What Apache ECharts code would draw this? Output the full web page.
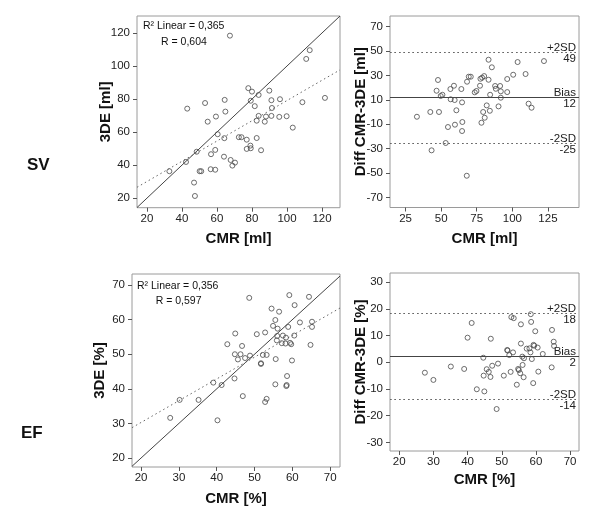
<!DOCTYPE html>
<html><head><meta charset="utf-8">
<script src="https://cdn.jsdelivr.net/npm/echarts@6/dist/echarts.min.js"></script>
<style>html,body{margin:0;padding:0;background:#fff}#c{width:600px;height:513px}</style>
</head><body><div id="c"></div>
<script>
// ---- SV: CMR vs 3DE scatter ----
const svCmr = [67.4,113,111,77.9,80,89.9,83.8,64.4,53.2,79.3,91.1,96,108.8,81.6,91.4,43,121.7,54.7,59.4,64.8,83.8,82.7,87.3,88,91.1,95.6,99.8,103.3,60.4,64.2,72.5,74,77,82.7,77,79.3,79.1,85.2,48.4,56.6,59,64,67.8,70.3,68.8,42.3,32.8,50.1,51,56.4,59,46.9,47.4];
const sv3de = [118.4,109.6,104.3,86.6,84.5,85.1,82.5,79.5,77.6,79.0,79.3,79.9,78.1,75.7,74.6,74.2,80.7,66.3,69.4,72.4,69.8,66.9,66.3,69.4,69.8,69.2,69.6,62.7,58.7,56.3,56.9,56.9,55.4,56.4,49.8,50.2,51.8,49,48.1,46.6,49.2,45.1,43.1,41.5,39.7,41.9,36.3,36.3,36.3,37.5,37.2,29.4,21.3];
const svFit = [17.8, 0.613]; // intercept, slope (dotted fit line)
const svStats = ['R² Linear = 0,365', 'R = 0,604'];
// ---- SV: Bland-Altman ----
const svBaX = [83.3,103.7,122.2,85.6,109.3,100.6,96.4,69.4,70.8,68.2,77.6,78.8,80.2,83.3,77.3,47.8,59,56.5,64.2,46.8,50.9,49.7,73.6,74.8,87.9,91.4,88.4,91.9,96.4,84.4,91.9,56.7,59.5,64.7,82,90.3,111.4,113.5,60.7,42.4,48.5,33,79.5,84.2,80.6,78.3,64.9,59.7,54.8,64.7,53.2,43.3,68];
const svBaY = [42.8,40.9,41.7,36.6,31.1,30.5,27.0,28.9,28.9,24.8,27.2,28.1,29.4,26.4,21.5,26.2,21.5,18.8,18.8,17.4,14.1,13.1,16.1,17.2,21.3,21.3,19.0,16.9,16.3,14.1,11.7,10.4,9.8,7.9,5.4,4.6,6.8,3.5,1.4,0.0,0.0,-3.9,0.0,1.0,-4.7,-8.8,-8.2,-10.4,-12.3,-15.6,-25.4,-31.4,-52.2];
const svLimits = [49.1, 12.3, -25.4];
const svLimitNames = ['+2SD', 'Bias', '-2SD'];
const svLimitLabels = ['49', '12', '-25'];
// ---- EF: CMR vs 3DE scatter ----
const efCmr = [48.6,59.2,64.4,60.6,54.5,56.5,55.5,62,65.2,65.2,54.9,56.1,58.9,44.9,50.6,52.8,56,57.5,58.3,60.5,55.9,57.2,58.2,59.4,59.7,64.8,42.8,46.7,44.8,46.3,45.6,47.5,48.8,52.2,53.2,55.6,59.9,51.7,51.7,58.6,55.5,58.4,58.5,53.2,52.8,46.9,44.7,41.3,39.1,35.2,30.2,27.7,40.2];
const ef3de = [66.3,67.1,66.6,64.2,63.2,62.3,59.9,59.2,59.4,57.9,58.2,57.4,57.9,56,55.8,56.3,55.3,55.4,54.8,55.4,54,53.2,53.1,53.3,52.9,52.7,52.9,52.4,50,50,48.5,48.9,49.6,49.8,49.8,48.6,48.2,47.2,47.4,43.7,41.3,40.8,41.1,37.1,36.2,37.9,43,41.1,41.8,36.8,36.8,31.6,30.9];
const efFit = [17.7, 0.629];
const efStats = ['R² Linear = 0,356', 'R = 0,597'];
// ---- EF: Bland-Altman ----
const efBaX = [58.5,52.8,53.5,58.6,55.6,41.2,59.8,64.7,40,46.8,65.2,65.3,55.6,59.3,59.5,60.5,57.3,58.1,51.6,51.7,53.3,52.2,62,58.4,56,56.5,58.8,44.6,48.9,47.2,35.1,39,45.6,56.1,54.8,64.6,27.5,30,46.2,44.7,46.7,50.6,52.6,55,55.4,56.4,54.4,60.7,59.2,42.7,44.9,48.5];
const efBaY = [18,16.9,16.5,15.1,14.2,14.7,11.6,12.1,9.2,8.8,7.7,6.1,7,6.5,6.2,5.5,5.1,5.2,4.6,4.4,3.7,2.7,3.1,3.7,2.1,1.5,1.2,1.7,-0.5,-1.3,-1.6,-2.5,-2.6,-1,-2.5,-1.9,-3.9,-6.6,-3.6,-5,-5.5,-5,-3.6,-2.9,-4.1,-5.6,-8.4,-3.5,-7.8,-10.1,-10.9,-17.5];
const efLimits = [18.35, 2.36, -13.7];
const efLimitNames = ['+2SD', 'Bias', '-2SD'];
const efLimitLabels = ['18', '2', '-14'];
// ---- tick labels ----
const svTicksX = [20,40,60,80,100,120];
const svTicksY = [20,40,60,80,100,120];
const svBaTicksX = [25,50,75,100,125];
const svBaTicksY = [-70,-50,-30,-10,10,30,50,70];
const efTicksX = [20,30,40,50,60,70];
const efTicksY = [20,30,40,50,60,70];
const efBaTicksX = [20,30,40,50,60,70];
const efBaTicksY = [-30,-20,-10,0,10,20,30];

const FONT = 'Liberation Sans, Arial, sans-serif';
const ranges = [
  {x:[14.3,130.3], y:[14.2,130.3]},
  {x:[14.1,146.8], y:[-78.2,78.6]},
  {x:[17.6,72.6], y:[17.4,73.2]},
  {x:[17.3,72.6], y:[-33.2,33.4]}
];
const grids = [
  {left:137, top:16, width:203, height:191.7},
  {left:390, top:16, width:189, height:191.5},
  {left:132, top:274, width:208, height:193},
  {left:390, top:273, width:189, height:178}
].map(g => Object.assign(g, {show:true, borderColor:'#9a9a9a', borderWidth:1, backgroundColor:'#fff', containLabel:false}));

function axis(type, gi, range, ticks, name, gap) {
  const isX = type === 'x';
  return {
    type:'value', gridIndex:gi, min:range[0], max:range[1],
    name:name, nameLocation:'middle', nameGap:gap, nameMoveOverlap:false,
    nameTextStyle:{fontFamily:FONT, fontWeight:'bold', fontSize:15, color:'#111'},
    axisLine:{show:false, onZero:false},
    splitLine:{show:false},
    axisTick:{show:true, length:4, customValues:ticks, lineStyle:{color:'#555', width:1}},
    axisLabel:{customValues:ticks, margin: isX ? 5 : 7, fontFamily:FONT, fontSize:11.5, color:'#222'}
  };
}

const xAxis = [
  axis('x',0,ranges[0].x,svTicksX,'CMR [ml]',24),
  axis('x',1,ranges[1].x,svBaTicksX,'CMR [ml]',24),
  axis('x',2,ranges[2].x,efTicksX,'CMR [%]',24),
  axis('x',3,ranges[3].x,efBaTicksX,'CMR [%]',21)
];
const yAxis = [
  axis('y',0,ranges[0].y,svTicksY,'3DE [ml]',24),
  axis('y',1,ranges[1].y,svBaTicksY,'Diff CMR-3DE [ml]',22),
  axis('y',2,ranges[2].y,efTicksY,'3DE [%]',25),
  axis('y',3,ranges[3].y,efBaTicksY,'Diff CMR-3DE [%]',22)
];

const pointStyle = {color:'rgba(0,0,0,0)', borderColor:'#4a4a4a', borderWidth:1};
function scatter(gi, xs, ys) {
  return {type:'scatter', xAxisIndex:gi, yAxisIndex:gi, symbol:'circle', symbolSize:5,
    itemStyle:pointStyle, data: xs.map((x,i)=>[x, ys[i]]), z:5, silent:true};
}
function line(gi, pts, dashed) {
  return {type:'line', xAxisIndex:gi, yAxisIndex:gi, data:pts, symbol:'none', silent:true, clip:true,
    lineStyle:{color: dashed ? '#666' : '#444', width:1, type: dashed ? [1.5,3] : 'solid'}, z:3};
}
function limitLines(gi, limits, names, labels) {
  const data = [];
  limits.forEach((v,i) => {
    const ls = {color: i===1 ? '#444' : '#666', width:1, type: i===1 ? 'solid' : [1.5,3]};
    const lab = {fontFamily:FONT, fontSize:11.5, color:'#222'};
    data.push({yAxis:v, lineStyle:ls, label:Object.assign({formatter:names[i], position:'insideEndTop', distance:[3,-2]}, lab)});
    data.push({yAxis:v, lineStyle:ls, label:Object.assign({formatter:labels[i], position:'insideEndBottom', distance:[3,1]}, lab)});
  });
  return {type:'line', xAxisIndex:gi, yAxisIndex:gi, data:[], silent:true,
    markLine:{silent:true, symbol:['none','none'], animation:false, data:data}};
}

const series = [
  scatter(0, svCmr, sv3de),
  line(0, [[ranges[0].x[0], ranges[0].x[0]],[ranges[0].x[1], ranges[0].x[1]]], false),
  line(0, [[ranges[0].x[0], svFit[0]+svFit[1]*ranges[0].x[0]],[ranges[0].x[1], svFit[0]+svFit[1]*ranges[0].x[1]]], true),
  scatter(1, svBaX, svBaY),
  limitLines(1, svLimits, svLimitNames, svLimitLabels),
  scatter(2, efCmr, ef3de),
  line(2, [[ranges[2].x[0], ranges[2].x[0]],[ranges[2].x[1], ranges[2].x[1]]], false),
  line(2, [[ranges[2].x[0], efFit[0]+efFit[1]*ranges[2].x[0]],[ranges[2].x[1], efFit[0]+efFit[1]*ranges[2].x[1]]], true),
  scatter(3, efBaX, efBaY),
  limitLines(3, efLimits, efLimitNames, efLimitLabels)
];

function txt(x, y, s, size, bold) {
  return {type:'text', x:x, y:y, silent:true, z:10,
    style:{text:s, fontFamily:FONT, fontSize:size, fontWeight: bold ? 'bold' : 'normal', fill:'#111', textVerticalAlign:'middle'}};
}
const graphic = [
  txt(27, 165, 'SV', 17, true),
  txt(21, 433, 'EF', 17, true),
  txt(143, 25.7, svStats[0], 10.5, false),
  txt(161, 41.7, svStats[1], 10.5, false),
  txt(137, 285.7, efStats[0], 10.5, false),
  txt(155.7, 300.7, efStats[1], 10.5, false)
];

const chart = echarts.init(document.getElementById('c'), null, {renderer:'canvas'});
chart.setOption({animation:false, backgroundColor:'#fff', grid:grids, xAxis:xAxis, yAxis:yAxis, series:series, graphic:graphic});
</script>
</body></html>
